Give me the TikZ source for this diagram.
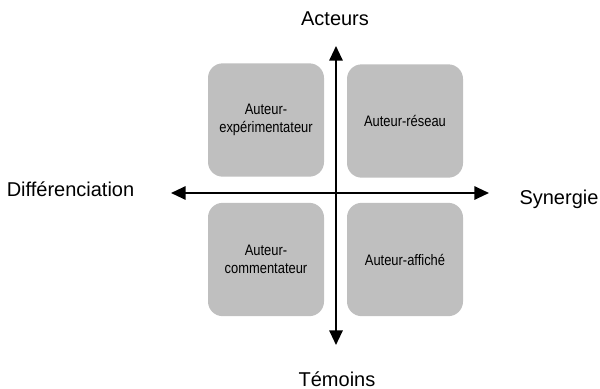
\documentclass[tikz,border=0pt]{standalone}
\usepackage{fontspec}
\setmainfont{Liberation Sans}
\usetikzlibrary{arrows.meta}
\begin{document}
\begin{tikzpicture}[x=0.75pt,y=-0.75pt]
        \tikzstyle{every node}=[font=\fontsize{15}{17}\selectfont]
        \tikzstyle{pole}=[anchor=base,inner sep=0pt]
        \tikzstyle{quadrant}=[fill=black!25,rounded corners=11pt,minimum width=87pt,minimum height=85pt,align=center,inner sep=1pt,font=\addfontfeatures{FakeStretch=0.85}\fontsize{11.4}{13}\selectfont]
        \tikzstyle{axis}=[line width=1.5pt,-{Triangle[length=11pt,width=10pt]}]
        \useasboundingbox (0,0) rectangle (600,389);
        \node[quadrant] (exp) at (266,120) {Auteur-\\expérimentateur};
        \node[quadrant] (res) at (405,121) {Auteur-réseau};
        \node[quadrant] (com) at (266,259.5) {Auteur-\\commentateur};
        \node[quadrant] (aff) at (405,259.5) {Auteur-affiché};
        \coordinate (o) at (336,193);
        \coordinate (top) at (336,46);
        \coordinate (bottom) at (336,345);
        \coordinate (left) at (171,193);
        \coordinate (right) at (489,193);
        \draw[axis] (o) -- (top); \draw[axis] (o) -- (bottom); \draw[axis] (o) -- (left); \draw[axis] (o) -- (right);
        \node[pole] (act) at (335,26) {Acteurs};
        \node[pole] (tem) at (337,386.5) {Témoins};
        \node[pole] (dif) at (70.5,196) {Différenciation};
        \node[pole] (syn) at (559,204) {Synergie};
\end{tikzpicture}
\end{document}
